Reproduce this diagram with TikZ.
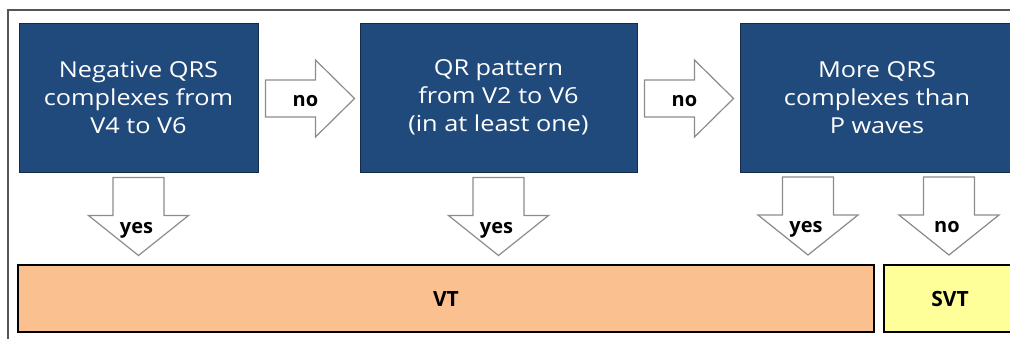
\documentclass[tikz,border=0pt]{standalone}
\usepackage{fontspec}
\setmainfont{Open Sans}
\newfontfamily\labelfont{Open Sans}
\newfontfamily\boxfont{Open Sans}[FakeStretch=1.15]
\usetikzlibrary{positioning}

\definecolor{boxblue}{HTML}{214A7C}
\definecolor{vtorange}{HTML}{FAC090}
\definecolor{svtyellow}{HTML}{FFFF99}
\definecolor{arrowgray}{HTML}{8C8C8C}
\definecolor{framegray}{HTML}{555555}

\tikzset{
  blockarrow/.style={draw=arrowgray, fill=white, line width=1.2pt, line join=miter},
  arrowlabel/.style={inner sep=0pt, font=\labelfont\bfseries\fontsize{20}{24}\selectfont},
  % right pointing block arrow, tail at the pic origin
  pics/rightblock/.style={code={
    \draw[blockarrow] (0,-18.5) -- (50,-18.5) -- (50,-38.5) -- (89,0)
      -- (50,38.5) -- (50,18.5) -- (0,18.5) -- cycle;
    \node[arrowlabel] (-label) at (40,2.5) {#1};
  }},
  % downward block arrow, tail centre at the pic origin
  pics/downblock/.style args={#1 at #2}{code={
    \draw[blockarrow] (-25.5,0) -- (25.5,0) -- (25.5,38) -- (50,38) -- (0,78)
      -- (-50,38) -- (-25.5,38) -- (-25.5,0) -- cycle;
    \node[arrowlabel] (-label) at (-2,#2) {#1};
  }}
}

\begin{document}
\begin{tikzpicture}[x=1pt,y=-1pt,
    question/.style={draw=boxblue!60!black, line width=1pt, fill=boxblue, text=white,
      align=center, minimum height=149pt, inner sep=0pt,
      font=\boxfont\fontsize{22}{28}\selectfont},
    result/.style={draw=black, line width=1.6pt, minimum height=67pt, inner sep=0pt,
      font=\labelfont\bfseries\fontsize{21}{25}\selectfont}]

  \useasboundingbox (0,0) rectangle (1010,338);
  \clip (0,0) rectangle (1010,338);

  % outer frame
  \draw[framegray, line width=1.5pt] (8,345) -- (8,10) -- (1020,10);

  % questions
  \node[question, minimum width=239pt] (qrs) at (138.5,97.5)
    {Negative QRS\\complexes from\\V4 to V6};
  \node[question, minimum width=277pt, right=101pt of qrs] (qr)
    {QR pattern\\from V2 to V6\\(in at least one)};
  \node[question, minimum width=274pt, right=102pt of qr] (ratio)
    {More QRS\\complexes than\\P waves};

  % results
  \node[result, fill=vtorange, minimum width=856pt] (vt) at (446,298.5) {VT};
  \node[result, fill=svtyellow, minimum width=132pt] (svt) at (950,298.5) {SVT};

  % no arrows
  \coordinate (no1) at ([xshift=7pt,yshift=-1pt]qrs.east);
  \coordinate (no2) at ([xshift=7pt,yshift=-1pt]qr.east);
  \pic (nolead) at (no1) {rightblock=no};
  \pic (noqr) at (no2) {rightblock=no};

  % yes / no arrows down
  \coordinate (yes1) at ([yshift=-5pt]qrs.south);
  \coordinate (yes2) at ([yshift=-5pt]qr.south);
  \coordinate (yes3) at (808,177);
  \coordinate (no3) at (949,177);
  \pic (yesqrs) at (yes1) {downblock={yes at 52.5}};
  \pic (yesqr) at (yes2) {downblock={yes at 52.5}};
  \pic (yesratio) at (yes3) {downblock={yes at 52.5}};
  \pic (noratio) at (no3) {downblock={no at 50}};
\end{tikzpicture}
\end{document}
